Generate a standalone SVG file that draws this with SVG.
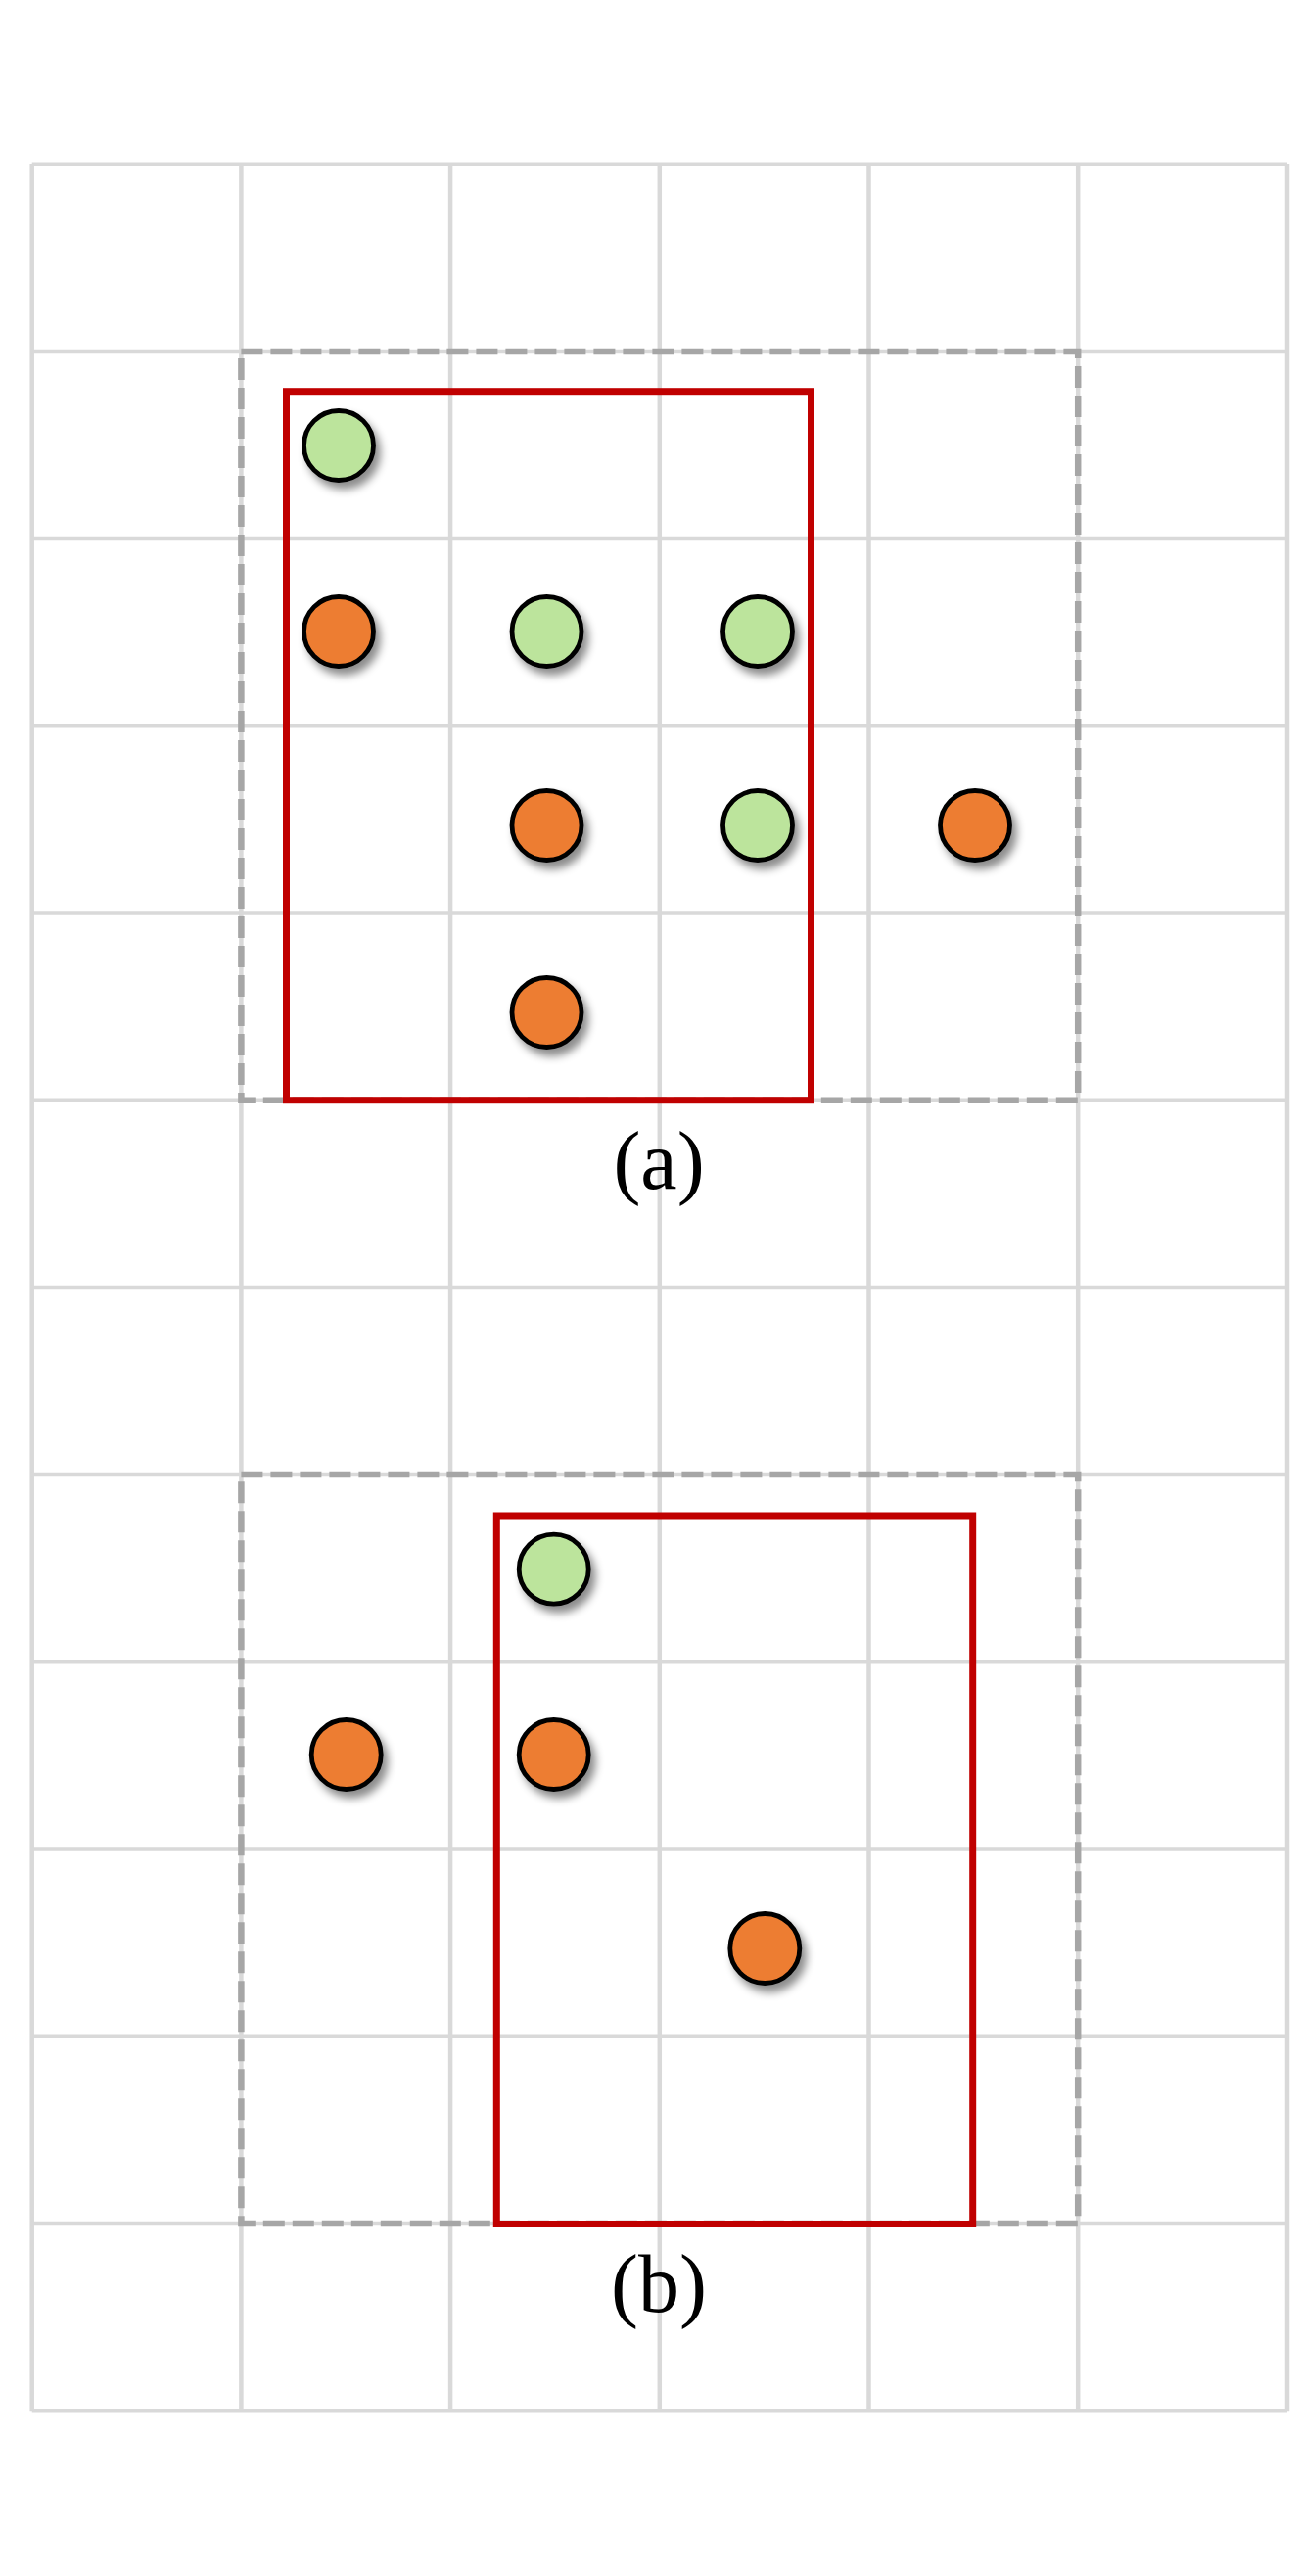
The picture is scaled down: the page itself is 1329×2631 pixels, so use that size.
<svg xmlns="http://www.w3.org/2000/svg" width="1329" height="2631" viewBox="0 0 1329 2631">
<style>
.grid{stroke:#d9d9d9;stroke-width:4.5;fill:none}
.dash{stroke:#a6a6a6;stroke-width:6.5;fill:none;stroke-dasharray:22 8}
.red{stroke:#c00000;stroke-width:7;fill:none}
.dot{stroke:#000;stroke-width:4.8;filter:url(#sh)}
.g{fill:#bce49c}
.o{fill:#ed7d31}
.lbl{font-family:"Liberation Serif","Times New Roman",serif;font-size:84px;fill:#000;text-anchor:middle}
</style>
<defs>
<filter id="sh" x="-50%" y="-50%" width="200%" height="200%">
<feDropShadow dx="5" dy="7" stdDeviation="4" flood-color="#000" flood-opacity="0.45"/>
</filter>
</defs>
<rect width="1329" height="2631" fill="#fff"/>
<g id="grid">
<path class="grid" d="M32.7 167.7V2462.3M246.4 167.7V2462.3M460.1 167.7V2462.3M673.8 167.7V2462.3M887.5 167.7V2462.3M1101.2 167.7V2462.3M1315 167.7V2462.3"/>
<path class="grid" d="M32.7 167.7H1315M32.7 358.9H1315M32.7 550.1H1315M32.7 741.3H1315M32.7 932.5H1315M32.7 1123.7H1315M32.7 1314.9H1315M32.7 1506.1H1315M32.7 1697.3H1315M32.7 1888.5H1315M32.7 2079.7H1315M32.7 2270.9H1315M32.7 2462.3H1315"/>
</g>
<g id="panel-a">
<rect id="a-window" class="dash" x="246.4" y="358.9" width="854.8" height="764.8"/>
<rect id="a-box" class="red" x="292.5" y="399.7" width="536" height="724"/>
<circle id="a1" class="dot g" cx="346" cy="455" r="35.5"/>
<circle id="a2" class="dot o" cx="346" cy="645" r="35.5"/>
<circle id="a3" class="dot g" cx="558.5" cy="645" r="35.5"/>
<circle id="a4" class="dot g" cx="774" cy="645" r="35.5"/>
<circle id="a5" class="dot o" cx="558.5" cy="843" r="35.5"/>
<circle id="a6" class="dot g" cx="774" cy="843" r="35.5"/>
<circle id="a7" class="dot o" cx="996" cy="843" r="35.5"/>
<circle id="a8" class="dot o" cx="558.5" cy="1034" r="35.5"/>
<text id="a-label" class="lbl" x="673" y="1214">(a)</text>
</g>
<g id="panel-b">
<rect id="b-window" class="dash" x="246.4" y="1506.1" width="854.8" height="764.8"/>
<rect id="b-box" class="red" x="507.3" y="1548" width="486.4" height="723.5"/>
<circle id="b1" class="dot g" cx="565.7" cy="1602.7" r="35.5"/>
<circle id="b2" class="dot o" cx="353.7" cy="1792" r="35.5"/>
<circle id="b3" class="dot o" cx="565.7" cy="1792" r="35.5"/>
<circle id="b4" class="dot o" cx="781.3" cy="1990" r="35.5"/>
<text id="b-label" class="lbl" x="673" y="2361">(b)</text>
</g>
<g id="connectors"/>
</svg>
